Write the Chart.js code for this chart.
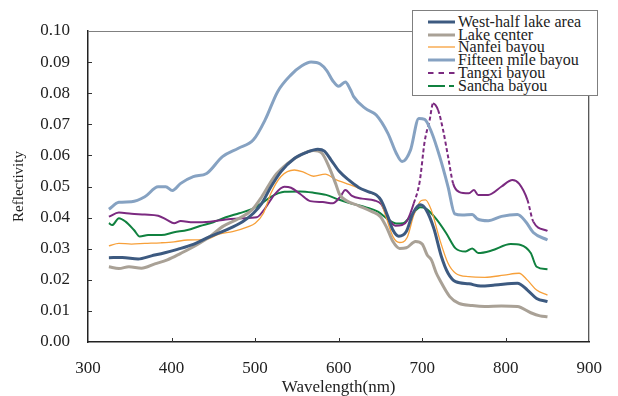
<!DOCTYPE html>
<html><head><meta charset="utf-8">
<script src="https://cdn.jsdelivr.net/npm/chart.js@4.4.0/dist/chart.umd.min.js"></script>
<style>
html,body{margin:0;padding:0;background:#fff;}
#wrap{position:relative;width:618px;height:396px;overflow:hidden;}
#c{position:absolute;left:0;top:0;}
#legend{position:absolute;left:412px;top:10px;width:184px;height:84px;border:1px solid #7f7f7f;background:#fff;font-family:'Liberation Serif','Times New Roman',serif;font-size:16px;color:#222;}
.row{position:absolute;left:0;width:184px;height:14px;line-height:14px;white-space:nowrap;}
.row svg{position:absolute;left:15px;top:0;}
.row span{position:absolute;left:45px;top:0;}
</style></head>
<body>
<div id="wrap">
<canvas id="c" width="618" height="396"></canvas>
<div id="legend"></div>
</div>
<script>
// ---- data ----
const seriesNames = ['West-half lake area','Lake center','Nanfei bayou','Fifteen mile bayou','Tangxi bayou','Sancha bayou'];
const xTicks = [300,400,500,600,700,800,900];
const yTicks = [0,0.01,0.02,0.03,0.04,0.05,0.06,0.07,0.08,0.09,0.10];

const westWl  = [325,341,360,376,392,407,426,446,465,485,498,508,519,531,547,562,575,583,591,601,612,624,636,645,651,659,665,672,681,689,698,705,714,723,731,740,756,770,787,814,826,837,850];
const westVal = [0.0271,0.0272,0.0267,0.0277,0.0287,0.0298,0.0314,0.0339,0.0360,0.0387,0.0414,0.0446,0.0499,0.0548,0.0590,0.0610,0.0620,0.0614,0.0585,0.0548,0.0521,0.0497,0.0483,0.0473,0.0455,0.0403,0.0360,0.0340,0.0355,0.0414,0.0441,0.0424,0.0365,0.0275,0.0221,0.0194,0.0187,0.0180,0.0183,0.0189,0.0167,0.0140,0.0130];

const lakeWl  = [325,337,349,364,380,395,411,430,446,461,481,496,508,523,539,554,570,580,589,597,601,609,624,640,650,657,665,673,681,692,700,706,711,717,721,733,744,760,775,795,814,830,841,850];
const lakeVal = [0.0242,0.0236,0.0242,0.0237,0.0251,0.0264,0.0285,0.0312,0.0339,0.0371,0.0398,0.0424,0.0467,0.0532,0.0574,0.0601,0.0616,0.0607,0.0560,0.0505,0.0475,0.0455,0.0438,0.0419,0.0403,0.0371,0.0323,0.0301,0.0303,0.0323,0.0315,0.0280,0.0264,0.0221,0.0200,0.0146,0.0124,0.0117,0.0114,0.0116,0.0114,0.0094,0.0084,0.0081];

const nanfeiWl  = [325,337,352,368,387,403,419,442,457,473,492,500,510,519,531,547,558,570,584,596,608,624,640,649,657,665,673,682,690,699,704,711,721,731,740,756,775,798,816,826,837,850];
const nanfeiVal = [0.0309,0.0317,0.0315,0.0317,0.0319,0.0322,0.0328,0.0330,0.0347,0.0355,0.0371,0.0382,0.0414,0.0478,0.0532,0.0553,0.0546,0.0533,0.0540,0.0523,0.0511,0.0495,0.0478,0.0460,0.0400,0.0339,0.0320,0.0336,0.0408,0.0455,0.0457,0.0424,0.0330,0.0253,0.0221,0.0210,0.0208,0.0215,0.0221,0.0199,0.0167,0.0151];

const fifteenWl  = [325,337,352,368,384,393,401,411,426,442,461,480,498,512,527,543,556,567,578,586,593,600,608,614,618,632,645,659,669,676,686,696,703,711,721,731,739,748,760,766,779,795,814,824,833,850];
const fifteenVal = [0.0427,0.0449,0.0451,0.0467,0.0499,0.0499,0.0487,0.0510,0.0532,0.0542,0.0596,0.0623,0.0650,0.0714,0.0805,0.0859,0.0888,0.0900,0.0894,0.0872,0.0840,0.0822,0.0836,0.0812,0.0789,0.0751,0.0730,0.0671,0.0607,0.0580,0.0617,0.0719,0.0716,0.0676,0.0596,0.0499,0.0412,0.0408,0.0410,0.0396,0.0390,0.0404,0.0410,0.0387,0.0352,0.0328];

const tangxiWl  = [325,337,352,368,384,395,403,411,426,446,465,485,502,512,523,535,543,554,566,581,593,602,608,616,628,643,651,660,668,676,682,690,697,703,709,713,719,725,731,737,744,756,762,767,779,795,808,816,826,833,850];
const tangxiVal = [0.0403,0.0416,0.0412,0.0410,0.0406,0.0392,0.0382,0.0389,0.0385,0.0387,0.0394,0.0398,0.0401,0.0430,0.0473,0.0499,0.0496,0.0476,0.0453,0.0450,0.0446,0.0467,0.0489,0.0470,0.0461,0.0455,0.0443,0.0395,0.0374,0.0376,0.0390,0.0446,0.0515,0.0645,0.0714,0.0767,0.0746,0.0682,0.0596,0.0510,0.0483,0.0478,0.0489,0.0473,0.0473,0.0500,0.0521,0.0509,0.0457,0.0387,0.0357];

const sanchaWl  = [325,329,337,345,355,362,372,388,403,419,434,450,465,481,496,508,519,535,554,570,585,600,614,633,647,659,669,677,686,698,705,717,729,740,752,760,767,783,806,818,830,837,850];
const sanchaVal = [0.0382,0.0376,0.0398,0.0387,0.0360,0.0339,0.0344,0.0344,0.0353,0.0360,0.0373,0.0385,0.0401,0.0414,0.0427,0.0446,0.0467,0.0483,0.0484,0.0480,0.0473,0.0458,0.0446,0.0433,0.0419,0.0395,0.0381,0.0382,0.0404,0.0433,0.0428,0.0395,0.0349,0.0301,0.0291,0.0301,0.0286,0.0294,0.0315,0.0312,0.0286,0.0242,0.0234];

// ---- styles ----
const styles = [
  {color:'#3D5A80', width:3},
  {color:'#A9A196', width:3},
  {color:'#F7A03A', width:1.3},
  {color:'#86A2C2', width:3},
  {color:'#7B2A80', width:2, legendDash:'5.5 5', steepDash:true},
  {color:'#10813F', width:2, legendDash:'17 4 5 4'}
];
const wls = [westWl,lakeWl,nanfeiWl,fifteenWl,tangxiWl,sanchaWl];
const vals = [westVal,lakeVal,nanfeiVal,fifteenVal,tangxiVal,sanchaVal];

const datasets = seriesNames.map((name,i)=>{
  const st = styles[i];
  const ds = {
    label:name,
    data: wls[i].map((x,j)=>({x:x,y:vals[i][j]})),
    borderColor: st.color,
    borderWidth: st.width,
    pointRadius:0,
    fill:false,
    cubicInterpolationMode:'monotone'
  };
  if (st.steepDash) {
    ds.segment = {
      borderDash: c => {
        const dx = Math.abs(c.p1.x - c.p0.x), dy = Math.abs(c.p1.y - c.p0.y);
        return dy > 3*dx ? [4,2.5] : undefined;
      }
    };
  }
  return ds;
});

// ---- legend (HTML) ----
const leg = document.getElementById('legend');
seriesNames.forEach((name,i)=>{
  const st = styles[i];
  const row = document.createElement('div');
  row.className = 'row';
  row.style.top = (3.7 + 12.86*i) + 'px';
  const dash = st.legendDash ? ` stroke-dasharray="${st.legendDash}"` : '';
  row.innerHTML = `<svg width="27" height="14"><line x1="0" y1="7" x2="27" y2="7" stroke="${st.color}" stroke-width="${st.width}"${dash}/></svg><span>${name}</span>`;
  leg.appendChild(row);
});

// ---- plugin: plot box + inward ticks ----
const boxPlugin = {
  id:'box',
  afterDraw(chart){
    const {ctx, chartArea:{left,top,right,bottom}, scales:{x,y}} = chart;
    ctx.save();
    ctx.lineWidth = 1;
    ctx.strokeStyle = '#808080';
    ctx.beginPath(); ctx.moveTo(left, top+0.5); ctx.lineTo(right, top+0.5); ctx.stroke();
    ctx.strokeStyle = '#222';
    ctx.beginPath(); ctx.moveTo(right-0.5, top); ctx.lineTo(right-0.5, bottom); ctx.stroke();
    ctx.strokeStyle = '#333';
    yTicks.forEach(v=>{
      if (v<=0 || v>=0.1) return;
      const py = Math.round(y.getPixelForValue(v))+0.5;
      ctx.beginPath(); ctx.moveTo(left, py); ctx.lineTo(left+4, py); ctx.stroke();
    });
    xTicks.forEach(v=>{
      if (v<=300 || v>=900) return;
      const px = Math.round(x.getPixelForValue(v))+0.5;
      ctx.beginPath(); ctx.moveTo(px, bottom); ctx.lineTo(px, bottom-4); ctx.stroke();
    });
    ctx.restore();
  }
};

const serif = "'Liberation Serif','Times New Roman',serif";
new Chart(document.getElementById('c'), {
  type:'line',
  data:{datasets:datasets},
  options:{
    responsive:false,
    animation:false,
    devicePixelRatio:1,
    layout:{padding:{left:0,top:31,right:14,bottom:0}},
    plugins:{legend:{display:false}, tooltip:{enabled:false}},
    scales:{
      x:{
        type:'linear', min:300, max:900,
        afterBuildTicks(s){ s.ticks = xTicks.map(v=>({value:v})); },
        ticks:{font:{family:serif,size:17}, color:'#222', padding:16, maxRotation:0, autoSkip:false},
        grid:{display:false, drawTicks:false, tickLength:0},
        border:{display:true, color:'#222', width:1.5},
        title:{display:true, text:'Wavelength(nm)', font:{family:serif,size:17}, color:'#222', padding:{top:0,bottom:-2}},
        afterFit(s){ s.height = 54; }
      },
      y:{
        type:'linear', min:0, max:0.1,
        afterBuildTicks(s){ s.ticks = yTicks.map(v=>({value:v})); },
        ticks:{font:{family:serif,size:17}, color:'#222', padding:18, autoSkip:false, callback:v=>Number(v).toFixed(2)},
        grid:{display:false, drawTicks:false, tickLength:0},
        border:{display:true, color:'#222', width:1.5},
        title:{display:true, text:'Reflectivity', font:{family:serif,size:15}, color:'#222', padding:{top:10,bottom:0}},
        afterFit(s){ s.width = 88; }
      }
    }
  },
  plugins:[boxPlugin]
});
</script>
</body></html>
